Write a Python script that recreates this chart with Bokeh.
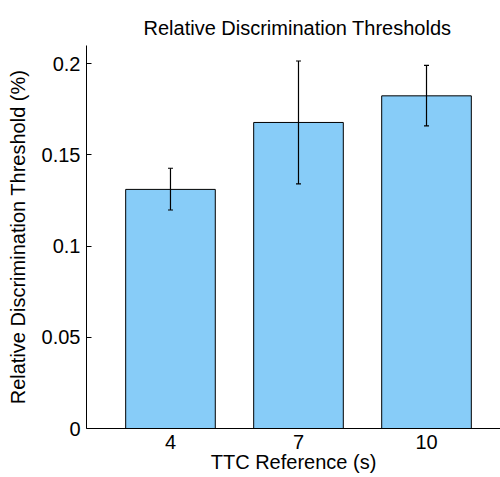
from bokeh.plotting import figure
from bokeh.models import ColumnDataSource, FixedTicker, Whisker, TeeHead, Range1d
from bokeh.embed import file_html
from bokeh.resources import INLINE

# ---- data ----
categories = ["4", "7", "10"]
thresholds = [0.1311, 0.1678, 0.1824]
err_upper = [0.1427, 0.2015, 0.1991]
err_lower = [0.1198, 0.1341, 0.1659]
y_ticks = [0, 0.05, 0.1, 0.15, 0.2]
y_tick_labels = ["0", "0.05", "0.1", "0.15", "0.2"]

xpos = list(range(1, len(categories) + 1))
src = ColumnDataSource(dict(x=xpos, top=thresholds, upper=err_upper, lower=err_lower))

FONT = "Liberation Sans"

p = figure(width=500, height=477, output_backend="svg", toolbar_location=None,
           x_range=Range1d(0.344, 3.578), y_range=Range1d(0, 0.21),
           min_border_left=86, min_border_right=0, min_border_top=45, min_border_bottom=49)

p.vbar(x="x", top="top", width=0.7, bottom=0, source=src,
       fill_color="#87CCF8", line_color="black", line_width=1)

w = Whisker(base="x", upper="upper", lower="lower", source=src, dimension="height",
            level="overlay",
            line_color="black", line_width=1.2,
            upper_head=TeeHead(size=5, line_color="black", line_width=1.2),
            lower_head=TeeHead(size=5, line_color="black", line_width=1.2))
p.add_layout(w)

p.title.text = "Relative Discrimination Thresholds"
p.title.align = "left"
p.title.offset = 57
p.title.standoff = 14
p.title.text_font = FONT
p.title.text_font_size = "20px"
p.title.text_font_style = "normal"
p.title.text_color = "black"

p.xaxis.ticker = FixedTicker(ticks=xpos)
p.xaxis.major_label_overrides = {x: c for x, c in zip(xpos, categories)}
p.xaxis.axis_label = "TTC Reference (s)"
p.xaxis.major_tick_in = 0
p.xaxis.major_tick_out = 0
p.xaxis.minor_tick_line_color = None
p.xaxis.major_label_standoff = 6
p.xaxis.axis_label_standoff = -1

p.yaxis.ticker = FixedTicker(ticks=y_ticks)
p.yaxis.major_label_overrides = {t: l for t, l in zip(y_ticks, y_tick_labels)}
p.yaxis.axis_label = "Relative Discrimination Threshold (%)"
p.yaxis.major_tick_in = 5
p.yaxis.major_tick_out = 0
p.yaxis.minor_tick_line_color = None
p.yaxis.major_label_standoff = 6
p.yaxis.axis_label_standoff = 10

for ax in (p.xaxis[0], p.yaxis[0]):
    ax.axis_line_color = "black"
    ax.axis_line_width = 1
    ax.major_tick_line_color = "black"
    ax.major_label_text_font = FONT
    ax.major_label_text_font_size = "20px"
    ax.major_label_text_color = "black"
    ax.axis_label_text_font = FONT
    ax.axis_label_text_font_size = "20px"
    ax.axis_label_text_font_style = "normal"
    ax.axis_label_text_color = "black"

p.xgrid.visible = False
p.ygrid.visible = False
p.outline_line_color = None
p.background_fill_color = "white"
p.border_fill_color = "white"

open("out.html", "w").write(file_html(p, INLINE))
